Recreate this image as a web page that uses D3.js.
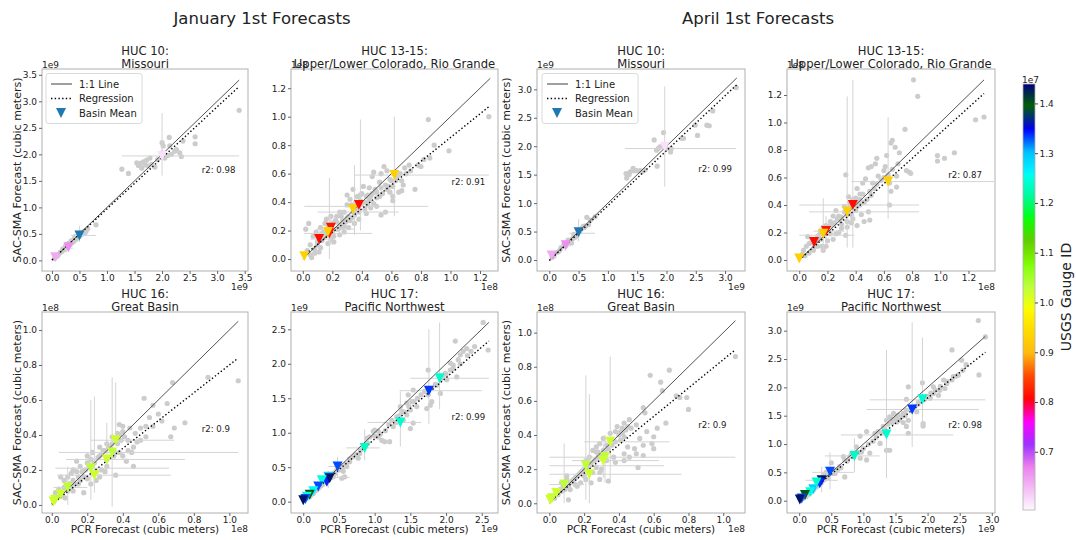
<!DOCTYPE html>
<html><head><meta charset="utf-8">
<script src="https://cdn.jsdelivr.net/npm/d3@7"></script>
<style>body{margin:0;background:#fff}svg{display:block}text{font-family:"DejaVu Sans",sans-serif;fill:#222}</style>
</head><body><svg id="c" width="1076" height="540"></svg>
<script>
// ---------- DATA ----------
const groupTitles = ["January 1st Forecasts", "April 1st Forecasts"];
const panelTitles = [["HUC 10:","Missouri"],["HUC 13-15:","Upper/Lower Colorado, Rio Grande"],["HUC 10:","Missouri"],["HUC 13-15:","Upper/Lower Colorado, Rio Grande"],
  ["HUC 16:","Great Basin"],["HUC 17:","Pacific Northwest"],["HUC 16:","Great Basin"],["HUC 17:","Pacific Northwest"]];
const offsetLabels = ["1e9","1e8","1e9","1e8","1e8","1e9","1e8","1e9"];
const xDomains = [[-0.18,3.56],[-0.08,1.322],[-0.21,3.34],[-0.087,1.388],[-0.055,1.105],[-0.172,2.728],[-0.071,1.125],[-0.19,3.05]];
const yDomains = [[-0.2,3.61],[-0.084,1.335],[-0.193,3.357],[-0.08,1.389],[-0.046,1.103],[-0.164,2.751],[-0.057,1.121],[-0.217,3.33]];
const xTickVals = [[0,0.5,1,1.5,2,2.5,3,3.5],[0,0.2,0.4,0.6,0.8,1,1.2],[0,0.5,1,1.5,2,2.5,3],[0,0.2,0.4,0.6,0.8,1,1.2],
  [0,0.2,0.4,0.6,0.8,1],[0,0.5,1,1.5,2,2.5],[0,0.2,0.4,0.6,0.8,1],[0,0.5,1,1.5,2,2.5,3]];
const yTickVals = [[0,0.5,1,1.5,2,2.5,3,3.5],[0,0.2,0.4,0.6,0.8,1,1.2],[0,0.5,1,1.5,2,2.5,3],[0,0.2,0.4,0.6,0.8,1,1.2],
  [0,0.2,0.4,0.6,0.8,1],[0,0.5,1,1.5,2,2.5],[0,0.2,0.4,0.6,0.8,1],[0,0.5,1,1.5,2,2.5,3]];
const r2Labels = ["r2: 0.98","r2: 0.91","r2: 0.99","r2: 0.87","r2: 0.9","r2: 0.99","r2: 0.9","r2: 0.98"];
const oneToOneMax = [3.4,1.27,3.2,1.31,1.05,2.6,1.07,2.9];
const regressionLines = [[0,0.01,3.4,3.28],[0,0.02,1.26,1.07],[0,-0.01,3.2,3.08],[0,0.0,1.31,1.21],
  [0,0.005,1.05,0.84],[0,0.02,2.6,2.33],[0,0.01,1.07,0.9],[0,0.02,2.9,2.62]];
const legendLabels = ["1:1 Line","Regression","Basin Mean"];
const colorbarTicks = [0.7,0.8,0.9,1.0,1.1,1.2,1.3,1.4];
const colorbarRange = [0.583,1.439];

// forecast points [PCR, SAC-SMA]
const janHuc10Points = [[1.27,1.72],[1.39,1.64],[1.54,1.84],[1.57,1.79],[1.6,1.83],[1.63,1.74],[1.66,1.86],[1.72,1.89],[1.81,1.81],[1.87,1.76],[1.78,1.93],[2.0,2.22],[2.0,2.03],[2.05,1.93],[2.13,2.32],[2.14,2.16],[2.17,2.0],[2.23,2.06],[2.26,2.09],[2.32,2.03],[2.35,1.96],[2.38,2.25],[2.6,2.33],[2.6,2.2],[3.4,2.83],[2.02,2.16],[2.1,1.98],[1.92,1.9],[1.69,1.8],[1.75,1.78],[0.8,0.67],[0.2,0.22],[0.25,0.28],[0.3,0.32],[0.35,0.37],[0.4,0.4],[0.45,0.42],[0.55,0.5],[0.6,0.52],[0.3,0.27],[0.38,0.35],[0.42,0.45],[0.15,0.15],[0.1,0.08],[0.22,0.2],[0.5,0.45],[0.58,0.55],
  [0.18,0.17],[0.28,0.25],[0.33,0.3],[0.36,0.33],[0.44,0.4],[0.47,0.44],[0.52,0.48],[0.53,0.52],[0.62,0.55],[0.65,0.6],[0.4,0.36],[0.27,0.24],[0.05,0.04],[0.08,0.09],[0.12,0.11]];
const janHuc1315Points = [[0.85,0.98],[0.89,0.8],[0.86,0.71],[0.8,0.65],[0.99,0.76],[1.26,1.0],[0.76,0.49],[0.73,0.62],[0.69,0.64],[0.55,0.65],[0.48,0.61],[0.47,0.58],[0.59,0.56],[0.64,0.58],[0.67,0.55],[0.61,0.51],[0.68,0.52],[0.61,0.44],[0.61,0.41],[0.53,0.31],[0.56,0.33],[0.5,0.37],[0.52,0.44],[0.41,0.51],[0.39,0.45],[0.37,0.44],[0.34,0.33],[0.32,0.42],[0.3,0.38],[0.25,0.33],[0.23,0.3],[0.22,0.27],[0.19,0.3],[0.16,0.28],[0.15,0.25],[0.12,0.22],[0.09,0.19],[0.04,0.25],[0.02,0.21],[0.07,0.16],[0.14,0.15],[0.19,0.14],[0.21,0.16],[0.28,0.23],[0.32,0.27],[0.24,0.21],[0.05,0.1],[0.08,0.07],[0.03,0.06],[0.06,0.01],[0.12,0.08],[0.39,0.41],[0.43,0.44],[0.44,0.38],[0.42,0.35],[0.37,0.37],[0.34,0.49],[0.3,0.45],[0.67,0.48],[0.65,0.47],[0.59,0.47],[0.58,0.51],[0.52,0.54],[0.49,0.49],[0.46,0.44],[0.27,0.27],[0.26,0.24],[0.3,0.29],[0.35,0.31],[0.1,0.12],[0.13,0.18],
  [0.1,0.1],[0.13,0.13],[0.16,0.17],[0.2,0.19],[0.22,0.21],[0.25,0.24],[0.27,0.22],[0.29,0.26],[0.31,0.3],[0.33,0.29],[0.36,0.34],[0.38,0.33],[0.4,0.39],[0.42,0.4],[0.45,0.41],[0.47,0.46],[0.5,0.47],[0.53,0.5],[0.56,0.52],[0.57,0.49],[0.6,0.55],[0.63,0.55],[0.7,0.6],[0.72,0.66],[0.78,0.66],[0.82,0.7],[0.14,0.19],[0.17,0.24],[0.2,0.25],[0.23,0.26],[0.26,0.3],[0.28,0.33],[0.33,0.38],[0.36,0.4],[0.4,0.46],[0.45,0.5],[0.05,0.03],[0.08,0.04],[0.11,0.05],[0.17,0.11],[0.21,0.12],[0.25,0.17],[0.28,0.19],[0.31,0.22],[0.35,0.25],[0.38,0.28],[0.43,0.32],[0.46,0.36],[0.5,0.43],[0.54,0.46],[0.48,0.39],[0.44,0.45],[0.53,0.6],[0.57,0.62],[0.62,0.61],[0.66,0.6]];
const aprHuc10Points = [[1.31,1.52],[1.32,1.44],[1.38,1.55],[1.43,1.61],[1.49,1.57],[1.58,1.55],[1.63,1.58],[1.79,2.11],[1.83,1.93],[1.86,1.96],[1.89,1.99],[1.84,1.65],[1.95,2.24],[1.97,2.02],[2.0,1.96],[2.07,1.9],[2.08,1.96],[2.26,2.14],[2.29,2.14],[2.49,2.37],[2.53,2.19],[2.69,2.37],[2.73,2.36],[2.79,2.62],[3.19,3.03],[0.64,0.75],[0.78,0.76],[0.58,0.59],[0.2,0.22],[0.25,0.27],[0.3,0.3],[0.35,0.33],[0.4,0.38],[0.45,0.42],[0.55,0.55],[0.6,0.57],[0.15,0.14],[0.32,0.35],[0.42,0.45],[0.5,0.52],[0.38,0.3],[0.1,0.12],
  [0.18,0.17],[0.28,0.25],[0.33,0.3],[0.36,0.35],[0.44,0.4],[0.47,0.44],[0.52,0.5],[0.62,0.6],[0.67,0.62],[0.7,0.7],[0.05,0.05],[0.08,0.07],[1.36,1.5],[1.45,1.57],[1.55,1.57]];
const aprHuc1315Points = [[0.81,1.31],[0.84,1.19],[1.31,1.04],[1.25,1.02],[1.1,0.78],[1.03,0.74],[0.98,0.76],[0.98,0.72],[0.75,0.95],[0.66,0.87],[0.65,0.85],[0.68,0.82],[0.62,0.76],[0.55,0.74],[0.54,0.7],[0.51,0.68],[0.49,0.67],[0.71,0.78],[0.76,0.65],[0.78,0.64],[0.79,0.63],[0.69,0.61],[0.61,0.68],[0.6,0.65],[0.56,0.61],[0.47,0.59],[0.64,0.56],[0.69,0.53],[0.65,0.5],[0.64,0.4],[0.51,0.47],[0.45,0.56],[0.41,0.52],[0.43,0.48],[0.33,0.62],[0.35,0.46],[0.38,0.44],[0.42,0.41],[0.49,0.35],[0.5,0.29],[0.41,0.25],[0.37,0.27],[0.34,0.33],[0.32,0.39],[0.28,0.32],[0.26,0.36],[0.24,0.32],[0.22,0.28],[0.19,0.25],[0.17,0.24],[0.15,0.21],[0.13,0.17],[0.09,0.15],[0.07,0.12],[0.05,0.1],[0.03,0.07],[0.02,0.04],[0.19,0.1],[0.17,0.07],[0.24,0.15],[0.26,0.19],[0.3,0.23],[0.34,0.24],[0.33,0.18],[0.16,0.1],[0.06,0.17],[0.15,0.15],[0.22,0.19],[0.36,0.39],[0.41,0.39],[0.43,0.44],[0.29,0.29],[0.21,0.22],[0.11,0.1],
  [0.1,0.12],[0.12,0.14],[0.14,0.18],[0.17,0.2],[0.2,0.23],[0.22,0.25],[0.24,0.26],[0.27,0.3],[0.3,0.31],[0.32,0.35],[0.35,0.36],[0.37,0.33],[0.4,0.36],[0.43,0.4],[0.46,0.42],[0.48,0.44],[0.5,0.5],[0.53,0.52],[0.55,0.55],[0.58,0.58],[0.6,0.6],[0.63,0.62],[0.66,0.66],[0.7,0.7],[0.28,0.2],[0.3,0.26],[0.34,0.28],[0.38,0.3],[0.44,0.33],[0.46,0.28],[0.04,0.03],[0.07,0.05],[0.1,0.07],[0.13,0.1],[0.2,0.14],[0.25,0.27],[0.36,0.42],[0.4,0.45],[0.45,0.48],[0.52,0.56]];
const janHuc16Points = [[0.52,0.61],[0.57,0.57],[0.65,0.58],[0.68,0.7],[0.88,0.73],[1.05,0.71],[0.75,0.47],[0.69,0.44],[0.67,0.39],[0.62,0.48],[0.57,0.45],[0.53,0.39],[0.46,0.22],[0.5,0.37],[0.46,0.33],[0.43,0.37],[0.4,0.45],[0.38,0.46],[0.37,0.41],[0.34,0.39],[0.31,0.35],[0.27,0.33],[0.36,0.17],[0.27,0.16],[0.31,0.26],[0.23,0.3],[0.22,0.26],[0.2,0.24],[0.18,0.16],[0.16,0.14],[0.14,0.25],[0.12,0.14],[0.1,0.12],[0.08,0.1],[0.07,0.1],[0.05,0.16],[0.04,0.09],[0.02,0.07],[0.03,0.04],[0.01,0.03],[0.075,0.04],[0.18,0.07],[0.25,0.14],[0.42,0.25],[0.43,0.31],[0.38,0.3],[0.35,0.31],[0.27,0.28],[0.37,0.35],[0.33,0.33],[0.29,0.31],[0.39,0.37],[0.41,0.39],[0.16,0.22],[0.11,0.18],[0.14,0.19],
  [0.05,0.05],[0.06,0.07],[0.09,0.08],[0.11,0.1],[0.13,0.12],[0.15,0.16],[0.17,0.19],[0.19,0.2],[0.21,0.22],[0.24,0.24],[0.26,0.27],[0.28,0.29],[0.3,0.31],[0.32,0.33],[0.34,0.35],[0.36,0.38],[0.38,0.4],[0.4,0.42],[0.44,0.44],[0.47,0.41],[0.5,0.44],[0.55,0.5],[0.6,0.52],[0.35,0.28],[0.31,0.22],[0.28,0.2],[0.25,0.19],[0.2,0.15],[0.15,0.12],[0.12,0.08],[0.22,0.12],[0.3,0.19],[0.4,0.28],[0.45,0.3],[0.48,0.36],[0.53,0.45],[0.07,0.14],[0.09,0.16],[0.12,0.2],[0.2,0.28]];
const janHuc17Points = [[2.52,2.6],[2.59,2.2],[2.13,2.33],[2.29,2.22],[2.24,2.18],[2.2,2.13],[2.17,2.06],[2.06,2.01],[2.1,1.93],[2.15,1.81],[2.06,1.91],[1.99,1.86],[1.92,1.77],[2.01,1.77],[1.87,1.69],[1.92,1.57],[1.75,1.91],[1.8,1.64],[1.75,1.55],[1.73,1.35],[1.78,1.4],[1.8,1.45],[1.59,1.38],[1.54,1.62],[1.52,1.45],[1.47,1.55],[1.45,1.43],[1.5,1.33],[1.45,1.26],[1.4,1.18],[1.38,1.31],[1.36,1.38],[1.31,1.23],[1.24,1.18],[1.26,1.09],[1.5,1.06],[1.54,1.14],[1.21,0.87],[1.14,0.87],[1.1,0.89],[1.05,0.94],[1.0,1.04],[0.98,1.02],[0.93,0.94],[0.89,0.92],[0.84,0.8],[0.77,0.63],[0.79,0.7],[0.75,0.68],[0.65,0.58],[0.61,0.51],[0.51,0.53],[0.56,0.44],[0.47,0.46],[0.42,0.36],[0.37,0.34],[0.33,0.31],[0.28,0.27],[0.23,0.22],[0.19,0.17],[0.14,0.12],[0.09,0.07],[0.05,0.05],[0.44,0.41],[0.4,0.36],[0.58,0.36],[0.54,0.34],[1.05,1.02],
  [0.1,0.09],[0.12,0.11],[0.16,0.15],[0.18,0.19],[0.21,0.19],[0.25,0.23],[0.27,0.25],[0.3,0.28],[0.32,0.3],[0.35,0.32],[0.39,0.35],[0.41,0.4],[0.45,0.43],[0.5,0.46],[0.55,0.5],[0.6,0.55],[0.65,0.62],[0.7,0.65],[0.73,0.68],[0.8,0.75],[0.87,0.8],[0.9,0.85],[1.0,0.95],[1.08,0.98],[1.15,1.03],[1.2,1.12],[1.3,1.15],[1.35,1.25],[1.42,1.3],[1.48,1.38],[1.55,1.45],[1.6,1.5],[1.65,1.55],[1.7,1.6],[1.85,1.7],[1.95,1.8],[2.0,1.85],[2.1,1.98],[2.2,2.0],[2.3,2.12],[2.35,2.18],[2.4,2.25]];
const aprHuc16Points = [[0.69,0.78],[0.58,0.75],[0.64,0.71],[0.65,0.66],[0.54,0.56],[0.55,0.53],[0.6,0.39],[0.59,0.35],[0.6,0.32],[0.54,0.34],[0.5,0.29],[0.51,0.21],[0.54,0.28],[0.73,0.63],[0.75,0.62],[0.79,0.62],[0.8,0.55],[1.07,0.86],[0.46,0.49],[0.45,0.45],[0.43,0.47],[0.42,0.44],[0.39,0.45],[0.41,0.42],[0.38,0.42],[0.43,0.39],[0.41,0.37],[0.45,0.33],[0.49,0.32],[0.43,0.29],[0.43,0.25],[0.35,0.37],[0.33,0.34],[0.31,0.31],[0.29,0.35],[0.27,0.33],[0.25,0.31],[0.23,0.27],[0.21,0.25],[0.2,0.2],[0.18,0.18],[0.16,0.16],[0.14,0.14],[0.12,0.12],[0.1,0.14],[0.08,0.1],[0.06,0.08],[0.04,0.06],[0.02,0.04],[0.01,0.02],[0.16,0.1],[0.18,0.12],[0.21,0.14],[0.25,0.18],[0.27,0.21],[0.29,0.14],[0.34,0.13],[0.29,0.18],[0.11,0.02],[0.33,0.25],[0.37,0.27],[0.28,0.27],
  [0.03,0.03],[0.05,0.05],[0.07,0.07],[0.09,0.08],[0.11,0.1],[0.13,0.13],[0.15,0.15],[0.17,0.17],[0.19,0.19],[0.22,0.21],[0.24,0.23],[0.26,0.25],[0.28,0.3],[0.3,0.28],[0.32,0.3],[0.34,0.32],[0.36,0.34],[0.38,0.36],[0.4,0.4],[0.42,0.41],[0.44,0.43],[0.47,0.44],[0.5,0.46],[0.35,0.41],[0.31,0.38],[0.27,0.3],[0.23,0.22],[0.2,0.16],[0.15,0.11],[0.12,0.08],[0.24,0.12],[0.3,0.2],[0.38,0.24],[0.46,0.27],[0.52,0.38],[0.56,0.42],[0.62,0.44],[0.67,0.47],[0.07,0.12],[0.1,0.16]];
const aprHuc17Points = [[2.79,3.18],[2.9,2.89],[2.38,2.66],[2.8,2.22],[2.53,2.48],[2.48,2.22],[2.4,2.19],[2.38,2.13],[2.3,2.07],[2.27,1.98],[2.19,1.95],[2.17,1.86],[2.09,1.89],[2.04,1.81],[1.92,2.08],[1.93,1.36],[1.93,1.32],[1.7,2.01],[1.67,1.79],[1.8,1.66],[1.83,1.57],[1.67,1.6],[1.62,1.54],[1.7,1.42],[1.67,1.31],[1.7,1.19],[1.54,1.51],[1.47,1.54],[1.41,1.48],[1.36,1.42],[1.31,1.31],[1.23,1.22],[1.18,1.19],[1.41,0.89],[1.36,0.89],[1.26,1.01],[1.05,1.22],[0.95,1.14],[0.89,0.95],[0.97,0.86],[0.82,0.84],[0.79,0.78],[0.71,0.72],[0.69,0.78],[0.95,0.75],[1.1,0.84],[1.05,0.72],[0.71,0.42],[0.5,0.67],[0.48,0.51],[0.43,0.42],[0.37,0.36],[0.32,0.31],[0.27,0.25],[0.22,0.19],[0.17,0.13],[0.11,0.07],[0.06,0.04],[0.58,0.54],[0.56,0.48],[0.63,0.6],[1.44,1.45],[1.52,1.39],[1.6,1.48],[1.62,1.38],[2.09,2.01],[2.25,2.13],[1.86,1.75],[1.99,1.84],
  [0.1,0.09],[0.13,0.11],[0.16,0.15],[0.2,0.17],[0.24,0.22],[0.28,0.26],[0.3,0.28],[0.34,0.31],[0.4,0.38],[0.45,0.4],[0.52,0.48],[0.55,0.52],[0.6,0.55],[0.65,0.58],[0.75,0.7],[0.85,0.78],[0.92,0.85],[1.0,0.92],[1.08,1.0],[1.15,1.05],[1.2,1.12],[1.28,1.2],[1.33,1.25],[1.38,1.35],[1.45,1.38],[1.5,1.45],[1.55,1.42],[1.65,1.5],[1.75,1.62],[1.85,1.7],[1.95,1.78],[2.05,1.9],[2.12,1.95],[2.2,2.02],[2.3,2.1],[2.45,2.2],[2.55,2.3],[2.6,2.4],[0.38,0.45],[0.42,0.5]];

// basin means [PCR, SAC-SMA, USGS gauge ID (1e7); null = default colour]
const janHuc10Means = [[2.0,1.97,0.6],[0.06,0.06,0.64],[0.3,0.25,0.66],[0.5,0.47,null]];
const janHuc1315Means = [[0.01,0.02,0.93],[0.11,0.14,0.81],[0.18,0.18,0.82],[0.19,0.22,0.815],[0.17,0.19,0.93],[0.34,0.35,0.93],[0.38,0.38,0.81],[0.62,0.59,0.93]];
const aprHuc10Means = [[1.97,1.99,0.6],[0.04,0.08,0.64],[0.28,0.26,0.66],[0.5,0.49,null]];
const aprHuc1315Means = [[0.0,0.01,0.93],[0.105,0.13,0.81],[0.19,0.21,0.815],[0.17,0.19,0.93],[0.34,0.35,0.93],[0.38,0.4,0.81],[0.63,0.57,0.93]];
const janHuc16Means = [[0.36,0.37,1.02],[0.34,0.3,1.03],[0.31,0.26,1.02],[0.22,0.21,1.03],[0.24,0.17,1.02],[0.09,0.1,1.03],[0.05,0.06,1.02],[0.02,0.03,1.03],[0.01,0.02,1.02]];
const janHuc17Means = [[1.91,1.79,1.24],[1.76,1.61,1.335],[1.36,1.15,1.24],[0.86,0.78,1.235],[0.48,0.51,1.33],[0.35,0.36,1.29],[0.33,0.29,1.34],[0.37,0.34,1.43],[0.26,0.31,1.25],[0.21,0.22,1.33],[0.14,0.15,1.26],[0.09,0.1,1.4],[0.05,0.07,1.24],[0.03,0.04,1.33],[0.0,0.02,1.43]];
const aprHuc16Means = [[0.35,0.36,1.02],[0.32,0.27,1.03],[0.31,0.25,1.02],[0.21,0.22,1.03],[0.23,0.17,1.02],[0.085,0.11,1.03],[0.04,0.06,1.02],[0.015,0.03,1.03],[0.005,0.02,1.02]];
const aprHuc17Means = [[1.92,1.79,1.24],[1.76,1.61,1.335],[1.36,1.17,1.24],[0.86,0.79,1.235],[0.48,0.51,1.33],[0.35,0.36,1.43],[0.32,0.31,1.34],[0.22,0.2,1.29],[0.17,0.15,1.25],[0.27,0.32,1.24],[0.09,0.1,1.4],[0.04,0.04,1.33],[0.01,0.02,1.43]];

// error bars [xMean, yMean, xLow, xHigh, yLow, yHigh]
const janHuc10Err = [[2.0,1.97,1.27,3.4,1.6,2.78],[0.5,0.47,0.35,0.8,0.35,0.65],[0.27,0.23,0.18,0.38,0.15,0.32]];
const janHuc1315Err = [[0.62,0.59,0.35,1.26,0.3,1.0],[0.39,0.37,0.01,0.85,0.2,0.98],[0.35,0.33,0.1,0.65,0.17,0.66],[0.18,0.18,0.01,0.47,0.0,0.57],[0.19,0.21,0.09,0.35,0.1,0.3],[0.11,0.14,0.05,0.2,0.08,0.2]];
const aprHuc10Err = [[1.97,1.96,1.29,3.19,1.29,3.05],[0.5,0.47,0.34,0.78,0.33,0.72],[0.27,0.25,0.18,0.36,0.16,0.34]];
const aprHuc1315Err = [[0.63,0.57,0.37,1.38,0.3,1.04],[0.38,0.4,0.0,0.85,0.09,1.31],[0.34,0.35,0.07,0.85,0.09,1.19],[0.17,0.18,0.0,0.39,0.05,0.45],[0.19,0.21,0.1,0.32,0.1,0.32]];
const janHuc16Err = [[0.34,0.3,0.04,1.05,-0.01,0.73],[0.31,0.26,0.08,0.75,0.18,0.47],[0.22,0.21,0.02,0.66,0.03,0.6],[0.24,0.17,0.03,0.67,0.07,0.62],[0.36,0.37,0.22,0.69,0.37,0.7],[0.09,0.1,0.01,0.2,0.0,0.22]];
const janHuc17Err = [[1.91,1.79,1.5,2.6,1.34,2.6],[1.76,1.61,1.35,2.5,1.13,2.5],[1.36,1.15,0.9,1.65,0.8,1.6],[0.86,0.78,0.6,1.07,0.6,1.05],[0.48,0.51,0.35,0.6,0.35,0.65],[0.35,0.35,0.2,0.65,0.2,0.45]];
const aprHuc16Err = [[0.35,0.36,0.2,0.69,0.13,0.86],[0.32,0.27,0.0,1.07,0.12,0.4],[0.31,0.25,0.13,0.63,0.15,0.35],[0.21,0.22,0.0,0.66,0.02,0.75],[0.23,0.17,0.0,0.76,0.0,0.64],[0.085,0.11,0.0,0.2,0.0,0.35]];
const aprHuc17Err = [[1.92,1.78,1.1,2.9,1.3,2.88],[1.76,1.61,1.05,2.8,0.95,3.15],[1.36,1.16,0.65,2.4,0.4,2.66],[0.86,0.79,0.4,1.25,0.5,1.1],[0.48,0.5,0.2,0.85,0.2,0.85],[0.35,0.36,0.1,0.6,0.15,0.6]];

const panelPoints = [janHuc10Points, janHuc1315Points, aprHuc10Points, aprHuc1315Points, janHuc16Points, janHuc17Points, aprHuc16Points, aprHuc17Points];
const panelMeans = [janHuc10Means, janHuc1315Means, aprHuc10Means, aprHuc1315Means, janHuc16Means, janHuc17Means, aprHuc16Means, aprHuc17Means];
const panelErr = [janHuc10Err, janHuc1315Err, aprHuc10Err, aprHuc1315Err, janHuc16Err, janHuc17Err, aprHuc16Err, aprHuc17Err];

// ---------- gist_ncar colormap ----------
const ncar = {
 r:[[0,0],[0.3098,0],[0.3725,0.3993],[0.4235,0.5003],[0.5333,1],[0.7922,1],[0.8471,0.6218],[0.898,0.9235],[1,0.9961]],
 g:[[0,0],[0.051,0.3722],[0.1059,0],[0.1569,0.7202],[0.1608,0.7537],[0.1647,0.7752],[0.2157,1],[0.2588,0.9804],[0.2706,0.9804],[0.3176,1],[0.3686,0.8081],[0.4275,1],[0.5216,1],[0.6314,0.7292],[0.6863,0.2796],[0.7451,0],[0.7922,0],[0.8431,0.1753],[0.898,0.5],[1,0.9725]],
 b:[[0,0.502],[0.051,0.0222],[0.1098,1],[0.2039,1],[0.2627,0.6145],[0.3216,0],[0.4157,0],[0.4745,0.2342],[0.5333,0],[0.5804,0],[0.6314,0.0549],[0.6902,0],[0.7373,0],[0.7922,0.9738],[0.8,1],[0.8431,1],[0.898,0.9341],[1,0.9961]]};
const chan = (k,t)=>d3.scaleLinear().domain(ncar[k].map(d=>d[0])).range(ncar[k].map(d=>d[1])).clamp(true)(t);
const gistNcar = t => d3.rgb(chan('r',t)*255, chan('g',t)*255, chan('b',t)*255).formatHex();
const tOf = d3.scaleLinear().domain(colorbarRange).range([1,0]).clamp(true); // reversed map
const gaugeColor = v => v==null ? "#1f77b4" : gistNcar(tOf(v));

// ---------- LAYOUT ----------
const svg = d3.select("#c");
const colL=[42,291,537,787], colR=[248,498,745,995], rowT=[69,312], rowB=[271,513];
function triPath(s){ return `M${-s/2},${-s/2}L${s/2},${-s/2}L0,${s/2}Z`; }

groupTitles.forEach((t,i)=>{
  svg.append("text").attr("x", i==0?262:758).attr("y",24).attr("text-anchor","middle")
    .style("font-size","16.5px").text(t);
});

for(let p=0;p<8;p++){
  const c=p%4, r=Math.floor(p/4);
  const x=d3.scaleLinear().domain(xDomains[p]).range([colL[c],colR[c]]);
  const y=d3.scaleLinear().domain(yDomains[p]).range([rowB[r],rowT[r]]);
  const g=svg.append("g");
  const clipId="clip"+p;
  g.append("clipPath").attr("id",clipId).append("rect").attr("x",colL[c]).attr("y",rowT[r]).attr("width",colR[c]-colL[c]).attr("height",rowB[r]-rowT[r]);
  const plot=g.append("g").attr("clip-path",`url(#${clipId})`);
  plot.selectAll("circle.pt").data(panelPoints[p]).join("circle").attr("class","pt")
    .attr("cx",d=>x(d[0])).attr("cy",d=>y(d[1])).attr("r",2.6).attr("fill","#cccccc");
  panelErr[p].forEach(e=>{
    plot.append("line").attr("x1",x(e[2])).attr("x2",x(e[3])).attr("y1",y(e[1])).attr("y2",y(e[1]))
      .attr("stroke","#d4d4d4").attr("stroke-width",1);
    plot.append("line").attr("x1",x(e[0])).attr("x2",x(e[0])).attr("y1",y(e[4])).attr("y2",y(e[5]))
      .attr("stroke","#d4d4d4").attr("stroke-width",1);
  });
  plot.append("line").attr("x1",x(0)).attr("y1",y(0)).attr("x2",x(oneToOneMax[p])).attr("y2",y(oneToOneMax[p]))
    .attr("stroke","#404040").attr("stroke-width",0.9);
  const rg=regressionLines[p];
  plot.append("line").attr("x1",x(rg[0])).attr("y1",y(rg[1])).attr("x2",x(rg[2])).attr("y2",y(rg[3]))
    .attr("stroke","#000").attr("stroke-width",1.4).attr("stroke-dasharray","1.4,2.3");
  plot.selectAll("path.mean").data(panelMeans[p]).join("path").attr("class","mean")
    .attr("d",triPath(10)).attr("transform",d=>`translate(${x(d[0])},${y(d[1])})`)
    .attr("fill",d=>gaugeColor(d[2]));
  g.append("rect").attr("x",colL[c]).attr("y",rowT[r]).attr("width",colR[c]-colL[c]).attr("height",rowB[r]-rowT[r])
    .attr("fill","none").attr("stroke","#b0b0b0").attr("stroke-width",1);
  const fmt=d3.format(".1f");
  const ax=g.append("g").attr("transform",`translate(0,${rowB[r]})`)
    .call(d3.axisBottom(x).tickValues(xTickVals[p]).tickFormat(fmt).tickSize(3).tickPadding(0.3));
  const ay=g.append("g").attr("transform",`translate(${colL[c]},0)`)
    .call(d3.axisLeft(y).tickValues(yTickVals[p]).tickFormat(fmt).tickSize(3).tickPadding(2));
  [ax,ay].forEach(a=>{a.select(".domain").remove(); a.selectAll(".tick line").attr("stroke","#666");
    a.selectAll(".tick text").style("font-size","9px").style("font-family","DejaVu Sans").attr("fill","#222");});
  g.append("text").attr("x",colL[c]).attr("y",rowT[r]-1).style("font-size","9px").text(offsetLabels[p]);
  g.append("text").attr("x",colR[c]).attr("y",rowB[r]+19).attr("text-anchor","end").style("font-size","9px").text(offsetLabels[p]);
  const cx=(colL[c]+colR[c])/2;
  g.append("text").attr("x",cx).attr("y",rowT[r]-14).attr("text-anchor","middle").style("font-size","11.6px").text(panelTitles[p][0]);
  g.append("text").attr("x",cx).attr("y",rowT[r]-1.5).attr("text-anchor","middle").style("font-size","11.6px").text(panelTitles[p][1]);
  const r2Frac=[0.5,0.44,0.505,0.475,0.42,0.48,0.44,0.44][p];
  g.append("text").attr("x",colL[c]+0.775*(colR[c]-colL[c])).attr("y",rowB[r]-r2Frac*(rowB[r]-rowT[r])+3.2)
    .style("font-size","8.6px").text(r2Labels[p]);
  if(c==0||c==2){
    const lx = c==0?17:506, ly=(rowT[r]+rowB[r])/2;
    g.append("text").attr("transform",`translate(${lx},${ly}) rotate(-90)`).attr("text-anchor","middle")
      .attr("dy","0.35em").style("font-size","11.1px").text("SAC-SMA Forecast (cubic meters)");
  }
  if(r==1){
    g.append("text").attr("x",cx).attr("y",533).attr("text-anchor","middle").style("font-size","10.5px").text("PCR Forecast (cubic meters)");
  }
  if(p==0||p==2){
    const lx0 = p==0?46:542, ly0=73.5;
    const lg=g.append("g");
    lg.append("rect").attr("x",lx0).attr("y",ly0).attr("width",96).attr("height",50).attr("rx",2.5)
      .attr("fill","#fff").attr("fill-opacity",0.85).attr("stroke","#d0d0d0").attr("stroke-width",0.8);
    const rows=[ly0+10.5, ly0+25, ly0+39.5];
    lg.append("line").attr("x1",lx0+5).attr("x2",lx0+26).attr("y1",rows[0]).attr("y2",rows[0]).attr("stroke","#808080").attr("stroke-width",1.5);
    lg.append("line").attr("x1",lx0+5).attr("x2",lx0+26).attr("y1",rows[1]).attr("y2",rows[1]).attr("stroke","#000").attr("stroke-width",1.4).attr("stroke-dasharray","1.4,2.3");
    lg.append("path").attr("d",triPath(10)).attr("transform",`translate(${lx0+15},${rows[2]})`).attr("fill","#1f77b4");
    legendLabels.forEach((t,i)=>lg.append("text").attr("x",lx0+33).attr("y",rows[i]).attr("dy","0.35em").style("font-size","10px").text(t));
  }
}

// ---------- colorbar ----------
const cbX=1023, cbW=12, cbTop=84, cbBot=510;
const cy=d3.scaleLinear().domain(colorbarRange).range([cbBot,cbTop]);
const grad=svg.append("defs").append("linearGradient").attr("id","cbg").attr("x1",0).attr("y1",1).attr("x2",0).attr("y2",0);
d3.range(0,1.0001,0.005).forEach(f=>grad.append("stop").attr("offset",f).attr("stop-color",gistNcar(1-f)));
svg.append("rect").attr("x",cbX).attr("y",cbTop).attr("width",cbW).attr("height",cbBot-cbTop).attr("fill","url(#cbg)")
  .attr("stroke","#b0b0b0").attr("stroke-width",0.8);
const cax=svg.append("g").attr("transform",`translate(${cbX+cbW},0)`)
  .call(d3.axisRight(cy).tickValues(colorbarTicks).tickFormat(d3.format(".1f")).tickSize(3).tickPadding(1.5));
cax.select(".domain").remove();
cax.selectAll(".tick line").attr("stroke","#444");
cax.selectAll(".tick text").style("font-size","9px").attr("fill","#222");
svg.append("text").attr("x",cbX-1).attr("y",cbTop-1).style("font-size","9px").text("1e7");
svg.append("text").attr("transform",`translate(1071,${(cbTop+cbBot)/2}) rotate(-90)`).attr("text-anchor","middle")
  .style("font-size","14px").text("USGS Gauge ID");
</script></body></html>
